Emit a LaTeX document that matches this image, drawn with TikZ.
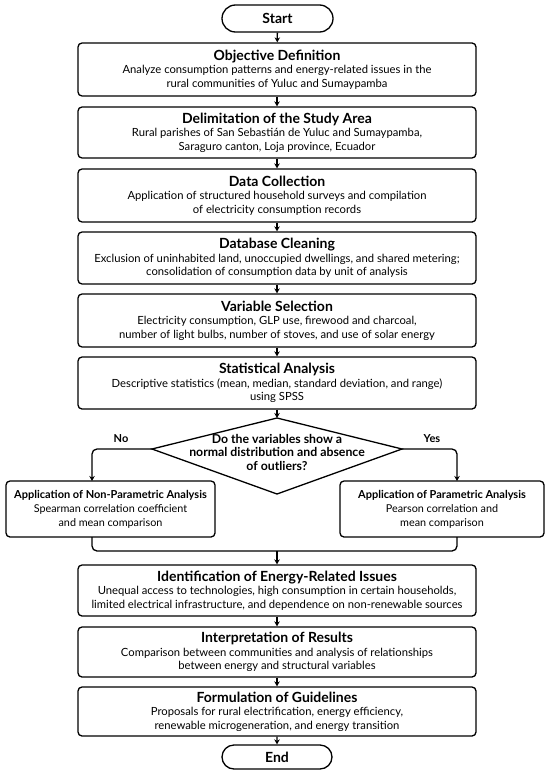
\documentclass[tikz,border=0pt]{standalone}
\usepackage{fontspec}
\setmainfont{Lato}
\usetikzlibrary{arrows.meta,shapes.misc}
\newcommand{\ttl}[1]{{\fontsize{14}{16}\selectfont\bfseries #1}}
\newcommand{\stl}[1]{{\fontsize{11}{13}\selectfont\bfseries #1}}
\tikzset{
  lw/.style={line width=1.3pt},
  box/.style={draw, lw, rounded corners=4pt, minimum width=398pt, align=center, inner sep=0pt,
    font=\fontsize{11.25}{13.5}\selectfont},
  sidebox/.style={draw, lw, rounded corners=4pt, align=center, inner sep=0pt, minimum height=56pt,
    font=\fontsize{10.8}{13.5}\selectfont},
  pill/.style={draw, lw, shape=rounded rectangle, inner sep=0pt, font=\fontsize{14}{16}\selectfont\bfseries},
  arr/.style={lw, -{Stealth[length=5pt,width=5.5pt]}},
  lbl/.style={font=\fontsize{11}{13}\selectfont\bfseries, inner sep=0pt},
}
\begin{document}
\begin{tikzpicture}[x=1pt,y=-1pt]
\useasboundingbox (0,0) rectangle (550,773);
\node[pill, minimum width=111pt, minimum height=27pt] (start) at (277.5,18.5) {Start};
\node[box, minimum height=53pt] (obj) at (277,69.5) {\ttl{Objective Definition}\\
  Analyze consumption patterns and energy-related issues in the\\ rural communities of Yuluc and Sumaypamba};
\node[box, minimum height=51pt] (delim) at (277,132.5) {\ttl{Delimitation of the Study Area}\\
  Rural parishes of San Sebastián de Yuluc and Sumaypamba,\\ Saraguro canton, Loja province, Ecuador};
\node[box, minimum height=53pt] (data) at (277,195.5) {\ttl{Data Collection}\\
  Application of structured household surveys and compilation\\ of electricity consumption records};
\node[box, minimum height=52pt] (clean) at (277,258) {\ttl{Database Cleaning}\\
  Exclusion of uninhabited land, unoccupied dwellings, and shared metering;\\ consolidation of consumption data by unit of analysis};
\node[box, minimum height=53pt] (var) at (277,320.5) {\ttl{Variable Selection}\\
  Electricity consumption, GLP use, firewood and charcoal,\\ number of light bulbs, number of stoves, and use of solar energy};
\node[box, minimum height=52pt] (stat) at (277,383) {\ttl{Statistical Analysis}\\
  Descriptive statistics (mean, median, standard deviation, and range)\\ using SPSS};
\coordinate (dt) at (277,418);
\coordinate (dr) at (402,449);
\coordinate (db) at (277,494);
\coordinate (dl) at (152,449);
\draw[lw] (dt) -- (dr) -- (db) -- (dl) -- cycle;
\node[align=center, inner sep=0pt, font=\fontsize{12.3}{13.5}\selectfont\bfseries] (dq) at (277,452)
  {Do the variables show a\\ normal distribution and absence\\ of outliers?};
\node[sidebox, minimum width=209pt] (lbox) at (110.5,509) {\stl{Application of Non-Parametric Analysis}\\[1pt]
  Spearman correlation coefficient\\ and mean comparison};
\node[sidebox, minimum width=204pt] (rbox) at (442,509) {\stl{Application of Parametric Analysis}\\[1pt]
  Pearson correlation and\\ mean comparison};
\node[lbl] (no) at (121,439) {No};
\node[lbl] (yes) at (432,439) {Yes};
\node[box, minimum height=51pt] (ident) at (277,590.5) {\ttl{Identification of Energy-Related Issues}\\
  Unequal access to technologies, high consumption in certain households,\\ limited electrical infrastructure, and dependence on non-renewable sources};
\node[box, minimum height=50pt] (interp) at (277,652) {\ttl{Interpretation of Results}\\
  Comparison between communities and analysis of relationships\\ between energy and structural variables};
\node[box, minimum height=49pt] (form) at (277,711.5) {\ttl{Formulation of Guidelines}\\
  Proposals for rural electrification, energy efficiency,\\ renewable microgeneration, and energy transition};
\node[pill, minimum width=110pt, minimum height=24pt] (end) at (277,757) {End};
\draw[arr] (start) -- (obj);
\draw[arr] (obj) -- (delim);
\draw[arr] (delim) -- (data);
\draw[arr] (data) -- (clean);
\draw[arr] (clean) -- (var);
\draw[arr] (var) -- (stat);
\draw[arr] (stat) -- (dt);
\coordinate (lin) at (92,481);
\coordinate (rin) at (457,481);
\coordinate (lout) at (92,537);
\coordinate (rout) at (457,537);
\coordinate (merge) at (277,551);
\draw[arr, rounded corners=5pt] (dl) -| (lin);
\draw[arr, rounded corners=5pt] (dr) -| (rin);
\draw[lw, rounded corners=5pt] (lout) |- (merge) -| (rout);
\draw[arr] (merge) -- (ident);
\draw[arr] (ident) -- (interp);
\draw[arr] (interp) -- (form);
\draw[arr] (form) -- (end);
\end{tikzpicture}
\end{document}
